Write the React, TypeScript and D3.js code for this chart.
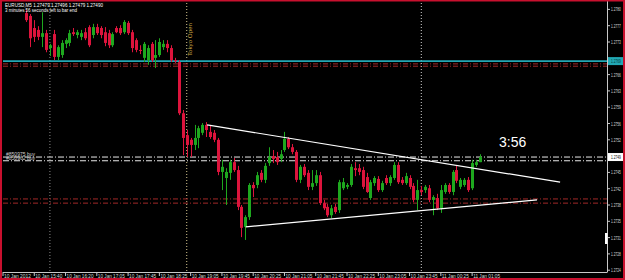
import React from 'react';
import * as d3 from 'd3';

// EURUSD M5 candles, first drawn bar index
const FIRST_BAR = 6;
const opens = [
  1.27799, 1.27793, 1.27767, 1.27763, 1.27748, 1.27756, 1.27724, 1.27754, 1.27705, 1.27709,
  1.27733, 1.27735, 1.27758, 1.27752, 1.27748, 1.27758, 1.27769, 1.27752, 1.27769, 1.27767,
  1.27758, 1.27756, 1.27730, 1.27767, 1.27767, 1.27758, 1.27778, 1.27758, 1.27741, 1.27720,
  1.27703, 1.27698, 1.27733, 1.27703, 1.27709, 1.27726, 1.27733, 1.27724, 1.27698, 1.27694,
  1.27584, 1.27537, 1.27527, 1.27516, 1.27531, 1.27542, 1.27559, 1.27544, 1.27542, 1.27527,
  1.27458, 1.27445, 1.27456, 1.27479, 1.27462, 1.27383, 1.27340, 1.27361, 1.27430, 1.27430,
  1.27456, 1.27441, 1.27477, 1.27492, 1.27490, 1.27486, 1.27505, 1.27529, 1.27511, 1.27501,
  1.27441, 1.27469, 1.27456, 1.27426, 1.27434, 1.27451, 1.27391, 1.27383, 1.27365, 1.27383,
  1.27376, 1.27423, 1.27426, 1.27430, 1.27466, 1.27466, 1.27462, 1.27447, 1.27402, 1.27434,
  1.27443, 1.27419, 1.27445, 1.27434, 1.27445, 1.27473, 1.27441, 1.27434, 1.27445, 1.27428,
  1.27398, 1.27419, 1.27419, 1.27423, 1.27398, 1.27402, 1.27380, 1.27415, 1.27430, 1.27415,
  1.27462, 1.27426, 1.27430, 1.27441, 1.27423, 1.27473, 1.27479,
];
const highs = [
  1.27806, 1.27797, 1.27784, 1.27771, 1.27801, 1.27763, 1.27733, 1.27763, 1.27730, 1.27741,
  1.27745, 1.27763, 1.27767, 1.27763, 1.27763, 1.27767, 1.27773, 1.27776, 1.27776, 1.27771,
  1.27769, 1.27763, 1.27758, 1.27771, 1.27773, 1.27784, 1.27782, 1.27763, 1.27745, 1.27730,
  1.27737, 1.27730, 1.27737, 1.27741, 1.27745, 1.27741, 1.27741, 1.27730, 1.27703, 1.27698,
  1.27591, 1.27548, 1.27531, 1.27559, 1.27557, 1.27563, 1.27565, 1.27557, 1.27548, 1.27531,
  1.27484, 1.27466, 1.27484, 1.27488, 1.27471, 1.27387, 1.27365, 1.27434, 1.27436, 1.27458,
  1.27462, 1.27477, 1.27511, 1.27505, 1.27501, 1.27505, 1.27544, 1.27533, 1.27518, 1.27505,
  1.27473, 1.27475, 1.27462, 1.27462, 1.27462, 1.27458, 1.27398, 1.27389, 1.27387, 1.27389,
  1.27441, 1.27445, 1.27434, 1.27475, 1.27479, 1.27475, 1.27469, 1.27456, 1.27441, 1.27449,
  1.27449, 1.27439, 1.27451, 1.27451, 1.27479, 1.27479, 1.27447, 1.27456, 1.27451, 1.27434,
  1.27441, 1.27428, 1.27430, 1.27430, 1.27408, 1.27411, 1.27430, 1.27434, 1.27434, 1.27462,
  1.27473, 1.27445, 1.27445, 1.27447, 1.27484, 1.27484, 1.27496,
];
const lows = [
  1.27780, 1.27726, 1.27737, 1.27741, 1.27726, 1.27715, 1.27707, 1.27698, 1.27698, 1.27703,
  1.27724, 1.27728, 1.27750, 1.27745, 1.27741, 1.27741, 1.27726, 1.27745, 1.27752, 1.27745,
  1.27728, 1.27724, 1.27726, 1.27756, 1.27752, 1.27754, 1.27752, 1.27715, 1.27715, 1.27711,
  1.27694, 1.27688, 1.27694, 1.27681, 1.27705, 1.27720, 1.27715, 1.27694, 1.27692, 1.27580,
  1.27494, 1.27490, 1.27490, 1.27505, 1.27509, 1.27537, 1.27533, 1.27529, 1.27522, 1.27451,
  1.27419, 1.27387, 1.27441, 1.27458, 1.27376, 1.27318, 1.27312, 1.27355, 1.27404, 1.27423,
  1.27436, 1.27434, 1.27471, 1.27477, 1.27473, 1.27479, 1.27501, 1.27507, 1.27496, 1.27436,
  1.27434, 1.27447, 1.27419, 1.27419, 1.27428, 1.27387, 1.27376, 1.27361, 1.27359, 1.27368,
  1.27370, 1.27419, 1.27421, 1.27426, 1.27449, 1.27451, 1.27421, 1.27413, 1.27398, 1.27428,
  1.27415, 1.27415, 1.27430, 1.27428, 1.27441, 1.27432, 1.27430, 1.27430, 1.27421, 1.27393,
  1.27376, 1.27408, 1.27413, 1.27393, 1.27365, 1.27376, 1.27370, 1.27411, 1.27411, 1.27408,
  1.27434, 1.27421, 1.27426, 1.27415, 1.27419, 1.27469, 1.27479,
];
const closes = [
  1.27784, 1.27745, 1.27748, 1.27748, 1.27756, 1.27720, 1.27730, 1.27705, 1.27726, 1.27735,
  1.27741, 1.27756, 1.27754, 1.27758, 1.27756, 1.27745, 1.27730, 1.27769, 1.27756, 1.27752,
  1.27735, 1.27730, 1.27754, 1.27758, 1.27756, 1.27780, 1.27756, 1.27724, 1.27720, 1.27718,
  1.27733, 1.27724, 1.27698, 1.27709, 1.27737, 1.27733, 1.27724, 1.27698, 1.27696, 1.27584,
  1.27531, 1.27516, 1.27516, 1.27531, 1.27552, 1.27559, 1.27548, 1.27533, 1.27527, 1.27458,
  1.27469, 1.27458, 1.27479, 1.27462, 1.27383, 1.27338, 1.27361, 1.27430, 1.27423, 1.27451,
  1.27441, 1.27471, 1.27490, 1.27486, 1.27479, 1.27496, 1.27529, 1.27511, 1.27501, 1.27441,
  1.27469, 1.27451, 1.27426, 1.27434, 1.27451, 1.27391, 1.27380, 1.27365, 1.27380, 1.27372,
  1.27436, 1.27436, 1.27430, 1.27469, 1.27462, 1.27458, 1.27426, 1.27415, 1.27436, 1.27445,
  1.27419, 1.27434, 1.27434, 1.27447, 1.27473, 1.27436, 1.27434, 1.27449, 1.27426, 1.27398,
  1.27419, 1.27415, 1.27426, 1.27398, 1.27404, 1.27380, 1.27419, 1.27430, 1.27415, 1.27458,
  1.27439, 1.27441, 1.27441, 1.27419, 1.27477, 1.27479, 1.27490,
];

const xLabels = [
  '10 Jan 2012', '10 Jan 15:40', '10 Jan 16:20', '10 Jan 17:05', '10 Jan 17:45', '10 Jan 18:25',
  '10 Jan 19:05', '10 Jan 19:45', '10 Jan 20:25', '10 Jan 21:05', '10 Jan 21:45', '10 Jan 22:25',
  '10 Jan 23:05', '10 Jan 23:45', '11 Jan 00:25', '11 Jan 01:05',
];
const xLabelBars = [0, 8, 16, 24, 32, 40, 48, 56, 64, 72, 80, 88, 96, 104, 112, 120];

const yTickValues = [
  1.27807, 1.27772, 1.27737, 1.27702, 1.27667, 1.27632, 1.27597, 1.27562, 1.27527,
  1.27492, 1.27457, 1.27422, 1.27387, 1.27352, 1.27317, 1.27282, 1.27247,
];
const yTickLabels = [
  '1.2780', '1.2777', '1.2773', '1.2770', '1.2766', '1.2763', '1.2759', '1.2756', '1.2752',
  '1.2749', '1.2745', '1.2742', '1.2738', '1.2735', '1.2731', '1.2728', '1.2724',
];

// horizontal levels
const cyanLevel = 1.27696;
const cyanLabel = '1.2769';
const lastLabel = '1.2749';
const redUpperLevels = [1.2769, 1.27685];
const orderLevels = [1.2749, 1.27482];
const orderNames = ['#850975 buy', '#850962 buy'];
const redLowerLevels = [1.274, 1.27391];
const vLineBars = [12, 47, 107];
const upperTrend = [[52.2, 1.27559], [142.5, 1.27436]];
const lowerTrend = [[62.1, 1.2734], [136.6, 1.27398]];

const W = 625;
const H = 280;
const FONT = "'Liberation Sans', Arial, sans-serif";

function AxisText({ x, y, text, fill }: { x: number; y: number; text: string; fill: string }) {
  return (
    <text transform={`translate(${x},${y}) scale(0.58,1)`} fontFamily={FONT} fontSize={5.5} fill={fill}>
      {text}
    </text>
  );
}

export default function App() {
  const x = d3.scaleLinear().domain([0, 154.5]).range([3, 607]);
  const y = d3.scaleLinear().domain([1.27247, 1.27807]).range([270.2, 9.4]);
  const line = d3.line<number[]>().x((d) => x(d[0])).y((d) => y(d[1]));

  const bull = '#1ea81e';
  const bear = '#dc143c';
  const lastClose = closes[closes.length - 1];
  const yCyan = y(cyanLevel);
  const yLast = y(lastClose);
  const visibleTicks = yTickValues
    .map((v, k) => ({ v, k }))
    .filter(({ v }) => Math.abs(y(v) - yCyan) > 6 && Math.abs(y(v) - yLast) > 6);

  return (
    <svg width={W} height={H} style={{ position: 'fixed', left: 0, top: 0, display: 'block' }}>
      <rect x={0} y={0} width={W} height={H} fill="#000" />

      {/* vertical lines */}
      <line x1={x(vLineBars[0])} x2={x(vLineBars[0])} y1={0} y2={272} stroke="#8a8a8a" strokeWidth={1} strokeDasharray="1,2" />
      <line x1={x(vLineBars[1])} x2={x(vLineBars[1])} y1={0} y2={272} stroke="#d8c890" strokeWidth={1} strokeDasharray="1,2" />
      <line x1={x(vLineBars[2])} x2={x(vLineBars[2])} y1={0} y2={272} stroke="#d0d0d0" strokeWidth={1} strokeDasharray="1,2" />
      <text transform={`translate(${x(vLineBars[1]) + 5},56) rotate(-90)`} fontFamily={FONT} fontSize={5.5} fill="#c8a040" textLength={33} lengthAdjust="spacingAndGlyphs">Tokyo Open</text>

      {/* horizontal levels */}
      {redUpperLevels.map((v, k) => (
        <line key={'ru' + k} x1={3} x2={607} y1={y(v)} y2={y(v)} stroke="#a02828" strokeWidth={1} strokeDasharray="5,2,1,2" />
      ))}
      <line x1={3} x2={607} y1={yCyan} y2={yCyan} stroke="#22a8b4" strokeWidth={1.6} />
      {redLowerLevels.map((v, k) => (
        <line key={'rl' + k} x1={3} x2={607} y1={y(v)} y2={y(v)} stroke="#a02828" strokeWidth={1} strokeDasharray="5,2,1,2" />
      ))}
      {orderLevels.map((v, k) => (
        <line key={'ol' + k} x1={3} x2={607} y1={y(v)} y2={y(v)} stroke="#e8e8e8" strokeWidth={1} strokeDasharray="6,2,1,2" />
      ))}
      {orderNames.map((t, k) => (
        <text key={'on' + k} x={6} y={y(orderLevels[k]) - 1 + k * 0.5} fontFamily={FONT} fontSize={4.5} fill="#d0d0d0" textLength={29} lengthAdjust="spacingAndGlyphs">{t}</text>
      ))}

      {/* candles */}
      {opens.map((o, k) => {
        const i = FIRST_BAR + k;
        const c = closes[k];
        const cx = Math.round(x(i));
        const col = c >= o ? bull : bear;
        const top = Math.min(y(o), y(c));
        const h = Math.max(1, Math.abs(y(o) - y(c)));
        return (
          <g key={'c' + k}>
            <line x1={cx + 0.5} x2={cx + 0.5} y1={y(highs[k])} y2={y(lows[k])} stroke={col} strokeWidth={1} />
            <rect x={cx - 1} y={top} width={3} height={h} fill={col} />
          </g>
        );
      })}

      {/* trendlines */}
      <path d={line(upperTrend) || ''} stroke="#fff" strokeWidth={1.2} fill="none" />
      <path d={line(lowerTrend) || ''} stroke="#fff" strokeWidth={1.2} fill="none" />

      {/* countdown */}
      <text x={499} y={147} fontFamily={FONT} fontSize={14} fill="#fff">3:56</text>

      {/* header */}
      <text x={5} y={7} fontFamily={FONT} fontSize={5} fill="#fff" textLength={98} lengthAdjust="spacingAndGlyphs">EURUSD,M5  1.27479 1.27496 1.27479 1.27490</text>
      <text x={5} y={12} fontFamily={FONT} fontSize={4.5} fill="#fff" textLength={72} lengthAdjust="spacingAndGlyphs">3 minutes 56 seconds left to bar end</text>

      {/* axes */}
      <line x1={607.5} x2={607.5} y1={0} y2={272} stroke="#c8c8c8" strokeWidth={1} />
      <line x1={3} x2={607.5} y1={272.5} y2={272.5} stroke="#c8c8c8" strokeWidth={1} />
      {yTickValues.map((v, k) => (
        <line key={'ytl' + k} x1={607} x2={610} y1={y(v)} y2={y(v)} stroke="#c8c8c8" />
      ))}
      {visibleTicks.map(({ v, k }) => (
        <AxisText key={'yt' + k} x={611} y={y(v) + 2} text={yTickLabels[k]} fill="#d8d8d8" />
      ))}
      {xLabelBars.map((b, k) => (
        <g key={'xt' + k}>
          <line x1={x(b)} x2={x(b)} y1={272} y2={276} stroke="#c8c8c8" />
          <text x={x(b) + 1} y={277.5} fontFamily={FONT} fontSize={5} fill="#d8d8d8" textLength={27} lengthAdjust="spacingAndGlyphs">{xLabels[k]}</text>
        </g>
      ))}

      {/* price highlight labels */}
      <rect x={608} y={yCyan - 4} width={15} height={8} fill="#22a8b4" />
      <AxisText x={611} y={yCyan + 2} text={cyanLabel} fill="#003838" />
      <rect x={608} y={yLast - 4} width={15} height={8} fill="#fff" />
      <AxisText x={611} y={yLast + 2} text={lastLabel} fill="#000" />
      <rect x={605} y={233} width={2.5} height={11} fill="#fff" />

      {/* window frame */}
      <rect x={1} y={0.5} width={W - 2} height={H - 1.5} fill="none" stroke="#c8102e" strokeWidth={2} />
    </svg>
  );
}
